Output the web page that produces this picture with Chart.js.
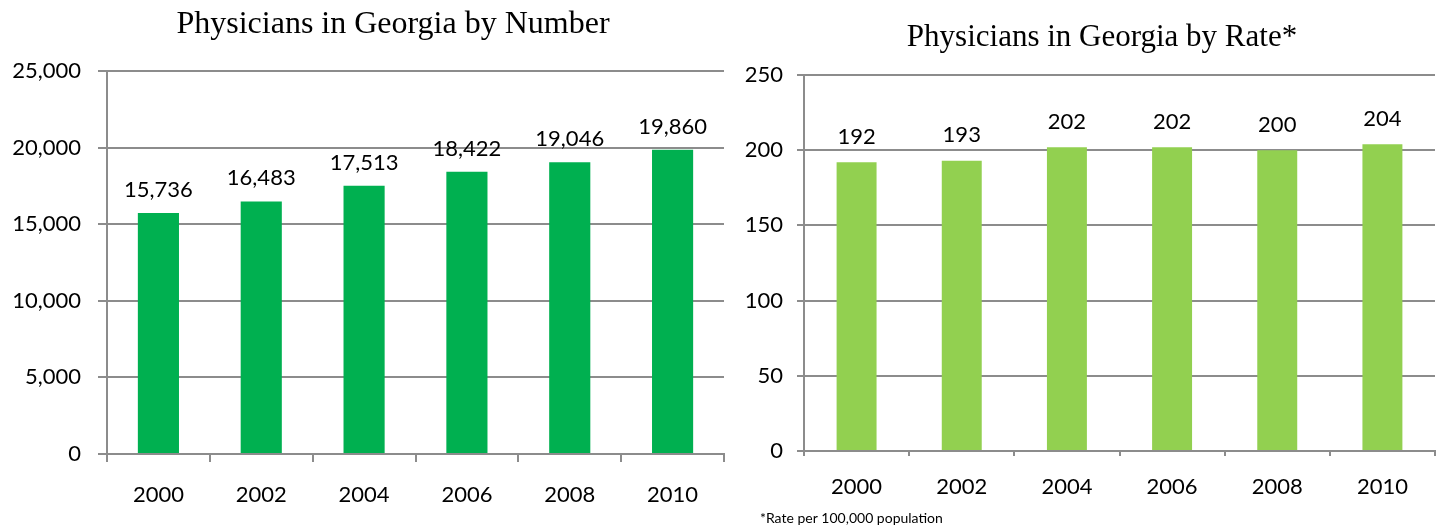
<!DOCTYPE html>
<html>
<head>
<meta charset="utf-8">
<title>Physicians in Georgia</title>
<script src="https://cdn.jsdelivr.net/npm/chart.js@4.4.1/dist/chart.umd.min.js"></script>
<style>
  html, body { margin: 0; padding: 0; background: #fff; }
  body { width: 1437px; height: 527px; position: relative; overflow: hidden; }
  canvas { position: absolute; top: 0; }
  #number-chart { left: 0; }
  #rate-chart { left: 735px; }
</style>
</head>
<body>
<canvas id="number-chart" width="735" height="527"></canvas>
<canvas id="rate-chart" width="702" height="527"></canvas>
<script>
const years = ["2000", "2002", "2004", "2006", "2008", "2010"];
const physicianCounts = [15736, 16483, 17513, 18422, 19046, 19860];
const physicianRates = [192, 193, 202, 202, 200, 204];
const countTicks = [0, 5000, 10000, 15000, 20000, 25000];
const rateTicks = [0, 50, 100, 150, 200, 250];

const gridColor = "#8c8c8c";
const labelFont = { family: "Lato", size: 22 };

// value printed above each bar
const valueLabels = {
  id: "valueLabels",
  afterDatasetsDraw: (chart, args, options) => {
    const { ctx } = chart;
    const values = chart.data.datasets[0].data;
    ctx.save();
    ctx.font = "22px Lato";
    ctx.fillStyle = "#000";
    ctx.textAlign = "center";
    ctx.textBaseline = "alphabetic";
    chart.getDatasetMeta(0).data.forEach((bar, i) => {
      ctx.fillText(values[i].toLocaleString("en-US"), bar.x, bar.y - options.offset);
    });
    ctx.restore();
  },
};

// title and footnote text
const headings = {
  id: "headings",
  afterDraw: (chart, args, options) => {
    const { ctx } = chart;
    ctx.save();
    ctx.fillStyle = "#000";
    ctx.textBaseline = "alphabetic";
    (options.lines || []).forEach((line) => {
      ctx.font = line.font;
      ctx.textAlign = line.align;
      ctx.fillText(line.text, line.x, line.y);
    });
    ctx.restore();
  },
};

function makeChart(id, opts) {
  const ctx = document.getElementById(id);
  return new Chart(ctx, {
    type: "bar",
    data: {
      labels: years,
      datasets: [
        {
          data: opts.values,
          backgroundColor: opts.color,
          borderWidth: 0,
          categoryPercentage: 1,
          barPercentage: opts.barPct,
        },
      ],
    },
    options: {
      responsive: false,
      animation: false,
      devicePixelRatio: 1,
      layout: { padding: opts.padding },
      scales: {
        x: {
          offset: true,
          grid: {
            offset: true,
            drawOnChartArea: false,
            tickLength: opts.xTickLength,
            color: gridColor,
            lineWidth: 2,
          },
          border: { color: gridColor, width: 2 },
          ticks: { color: "#000", font: labelFont, padding: opts.xPadding },
          afterFit: (scale) => {
            scale.height = opts.xHeight;
          },
        },
        y: {
          min: 0,
          max: opts.ticks[opts.ticks.length - 1],
          afterBuildTicks: (scale) => {
            scale.ticks = opts.ticks.map((v) => ({ value: v }));
          },
          grid: { color: gridColor, lineWidth: 2, tickLength: opts.yTickLength },
          border: { color: gridColor, width: 2 },
          ticks: {
            color: "#000",
            font: labelFont,
            padding: opts.yPadding,
            callback: (v) => v.toLocaleString("en-US"),
          },
          afterFit: (scale) => {
            scale.width = opts.yWidth;
          },
        },
      },
      plugins: {
        legend: { display: false },
        tooltip: { enabled: false },
        valueLabels: { offset: opts.labelOffset },
        headings: { lines: opts.lines },
      },
    },
    plugins: [valueLabels, headings],
  });
}

makeChart("number-chart", {
  values: physicianCounts,
  ticks: countTicks,
  color: "#00b050",
  barPct: 0.4,
  padding: { top: 71, right: 11, left: 0, bottom: 0 },
  xTickLength: 8,
  xPadding: 20,
  xHeight: 73,
  yTickLength: 9,
  yPadding: 17,
  yWidth: 107,
  labelOffset: 16,
  lines: [
    { text: "Physicians in Georgia by Number", font: "32px 'Liberation Serif'", align: "center", x: 393, y: 33 },
  ],
});

makeChart("rate-chart", {
  values: physicianRates,
  ticks: rateTicks,
  color: "#92d050",
  barPct: 0.38,
  padding: { top: 75, right: 2, left: 0, bottom: 0 },
  xTickLength: 5,
  xPadding: 18,
  xHeight: 76,
  yTickLength: 7,
  yPadding: 14,
  yWidth: 69,
  labelOffset: 18.5,
  lines: [
    { text: "Physicians in Georgia by Rate*", font: "31px 'Liberation Serif'", align: "center", x: 367, y: 46 },
    { text: "*Rate per 100,000 population", font: "14px Lato", align: "left", x: 25, y: 523 },
  ],
});
</script>
</body>
</html>
